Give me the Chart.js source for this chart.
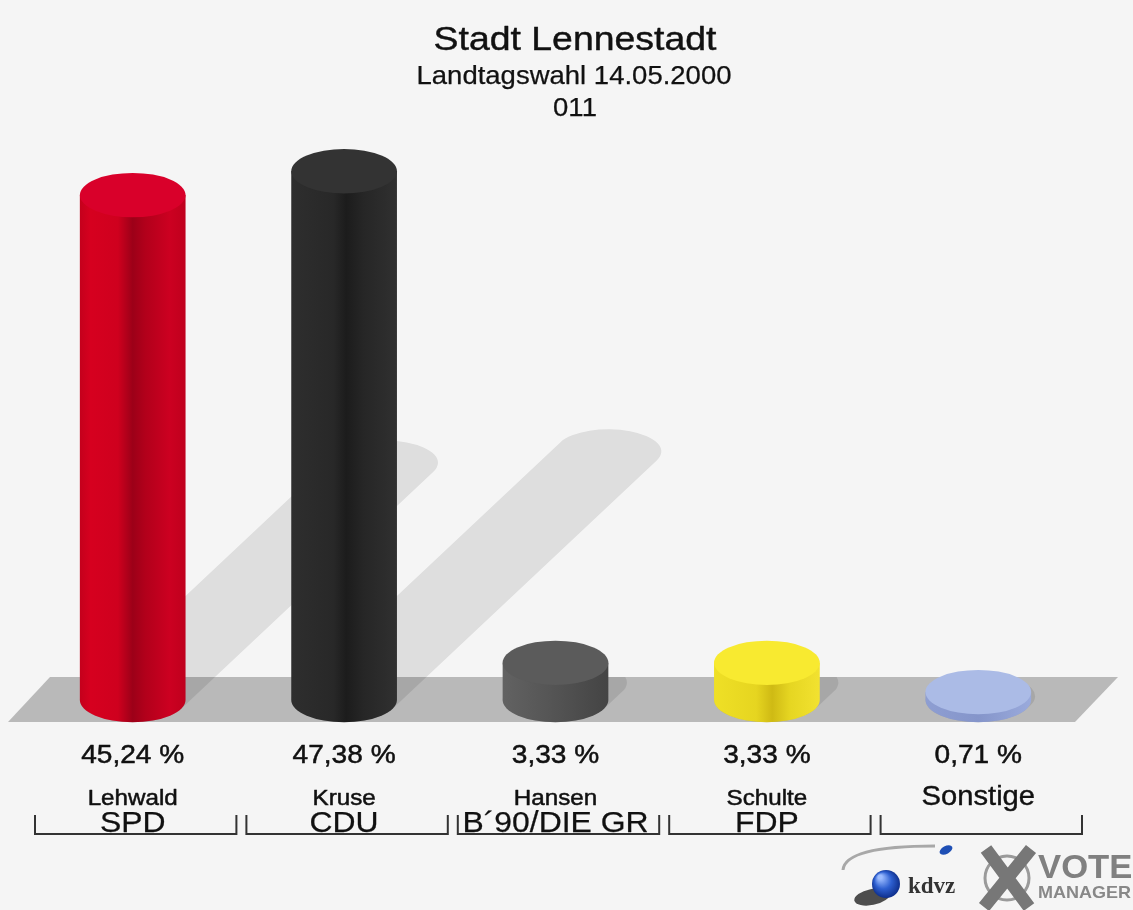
<!DOCTYPE html>
<html><head><meta charset="utf-8">
<script src="https://cdn.jsdelivr.net/npm/chart.js@4.4.0/dist/chart.umd.min.js"></script>
<style>html,body{margin:0;padding:0;background:#f5f5f5;overflow:hidden}canvas{display:block}</style>
</head><body>
<canvas id="c" width="1133" height="910"></canvas>
<script>
// ---- data ----
const titleText = "Stadt Lennestadt";
const subtitleText = "Landtagswahl 14.05.2000";
const districtText = "011";
const parties = ["SPD", "CDU", "B´90/DIE GR", "FDP", ""];
const candidates = ["Lehwald", "Kruse", "Hansen", "Schulte", "Sonstige"];
const shares = [45.24, 47.38, 3.33, 3.33, 0.71];
const shareLabels = ["45,24 %", "47,38 %", "3,33 %", "3,33 %", "0,71 %"];
const yMin = 0;
const yMax = 50;

// ---- styles ----
const barStyles = [
  { side: [[0,'#c4001c'],[0.1,'#d6001f'],[0.36,'#cf001e'],[0.5,'#9c0018'],[0.62,'#b2001b'],[0.85,'#cc0021'],[1,'#bf001d']], top: '#d9002a' },
  { side: [[0,'#2e2e2e'],[0.4,'#282828'],[0.52,'#1c1c1c'],[0.68,'#262626'],[1,'#303030']], top: '#333333' },
  { side: [[0,'#626262'],[0.45,'#555555'],[1,'#444444']], top: '#5b5b5b' },
  { side: [[0,'#efe026'],[0.4,'#e6d520'],[0.55,'#cfba14'],[0.72,'#e6d622'],[1,'#f2e230']], top: '#f8ea30' },
  { side: [[0,'#8e9ed2'],[0.5,'#8595ca'],[1,'#9aaadc']], top: '#abbbe6' }
];
const BG = '#f5f5f5';
const FONT = '"Liberation Sans", Arial, sans-serif';

function sText(ctx, text, x, y, size, sx, color, weight, align, stroke) {
  ctx.save();
  ctx.font = (weight || 'normal') + ' ' + size + 'px ' + FONT;
  ctx.fillStyle = color || '#111';
  ctx.textAlign = align || 'center';
  ctx.textBaseline = 'alphabetic';
  ctx.translate(x, y);
  ctx.scale(sx, 1);
  ctx.fillText(text, 0, 0);
  if (stroke) {
    ctx.strokeStyle = color || '#111';
    ctx.lineWidth = stroke;
    ctx.lineJoin = 'round';
    ctx.strokeText(text, 0, 0);
  }
  ctx.restore();
}

function sideGradient(ctx, x0, x1, stops) {
  const g = ctx.createLinearGradient(x0, 0, x1, 0);
  stops.forEach(s => g.addColorStop(s[0], s[1]));
  return g;
}

const scenePlugin = {
  id: 'scene',
  beforeDraw(chart) {
    const ctx = chart.ctx;
    ctx.save();
    ctx.fillStyle = BG;
    ctx.fillRect(0, 0, chart.width, chart.height);
    ctx.restore();
  },
  beforeDatasetsDraw(chart) {
    const { ctx, chartArea, scales } = chart;
    const y0 = scales.y.getPixelForValue(0);
    // platform
    ctx.save();
    ctx.fillStyle = '#b9b9b9';
    ctx.beginPath();
    ctx.moveTo(chartArea.left + 23, y0 - 23);
    ctx.lineTo(chartArea.right + 34, y0 - 23);
    ctx.lineTo(chartArea.right - 9, y0 + 22);
    ctx.lineTo(chartArea.left - 19, y0 + 22);
    ctx.closePath();
    ctx.fill();
    // shadows
    const meta = chart.getDatasetMeta(0);
    ctx.fillStyle = 'rgba(0,0,0,0.095)';
    meta.data.forEach(el => {
      const rx = el.width / 2, ry = rx * 0.42;
      const h = el.base - el.y;
      const dx = h * 0.5, dy = h * 0.47;
      const cx = el.x, cy = el.base;
      const t0 = Math.atan((ry * dx) / (rx * dy));
      ctx.save();
      if (h < 60) {
        ctx.beginPath();
        ctx.rect(0, y0 - 23, chart.width, 46);
        ctx.clip();
      }
      ctx.beginPath();
      ctx.ellipse(cx, cy, rx, ry, 0, t0, t0 + Math.PI, false);
      ctx.ellipse(cx + dx, cy - dy, rx, ry, 0, t0 + Math.PI, t0 + 2 * Math.PI, false);
      ctx.closePath();
      ctx.fill();
      ctx.restore();
    });
    ctx.restore();
  },
  afterDatasetsDraw(chart) {
    const { ctx } = chart;
    const meta = chart.getDatasetMeta(0);
    meta.data.forEach((el, i) => {
      const st = barStyles[i];
      const rx = el.width / 2, ry = rx * 0.42;
      const cx = el.x, top = el.y, base = el.base;
      ctx.save();
      ctx.fillStyle = sideGradient(ctx, cx - rx, cx + rx, st.side);
      ctx.beginPath();
      ctx.moveTo(cx - rx, top);
      ctx.lineTo(cx - rx, base);
      ctx.ellipse(cx, base, rx, ry, 0, Math.PI, 0, true);
      ctx.lineTo(cx + rx, top);
      ctx.closePath();
      ctx.fill();
      ctx.fillStyle = st.top;
      ctx.beginPath();
      ctx.ellipse(cx, top, rx, ry, 0, 0, Math.PI * 2);
      ctx.fill();
      ctx.restore();
    });
  },
  afterDraw(chart) {
    const { ctx, scales } = chart;
    const xs = scales.x;
    // titles
    sText(ctx, titleText, 575, 50, 34, 1.1, '#111', 'normal', 'center', 0.45);
    sText(ctx, subtitleText, 574, 84, 25, 1.1, '#111', 'normal', 'center', 0.25);
    sText(ctx, districtText, 575, 116, 25, 1.1, '#111', 'normal', 'center', 0.25);
    const meta = chart.getDatasetMeta(0);
    const step = xs.getPixelForValue(1) - xs.getPixelForValue(0);
    meta.data.forEach((el, i) => {
      const cx = el.x;
      sText(ctx, shareLabels[i], cx, 763, 26, 1.08, '#111', 'normal', 'center', 0.5);
      const bl = cx - step / 2 + 8, br = cx + step / 2 - 2;
      if (parties[i]) {
        sText(ctx, candidates[i], cx, 805, 22, 1.1, '#111', 'normal', 'center', 0.5);
        ctx.save();
        ctx.beginPath();
        ctx.rect(bl + 2, 780, br - bl - 4, 60);
        ctx.clip();
        sText(ctx, parties[i], cx, 832, 29, 1.1, '#111', 'normal', 'center', 0.25);
        ctx.restore();
      } else {
        sText(ctx, candidates[i], cx, 805, 27, 1.08, '#111', 'normal', 'center', 0.4);
      }
      // bracket
      ctx.save();
      ctx.strokeStyle = '#333';
      ctx.lineWidth = 2;
      ctx.beginPath();
      ctx.moveTo(bl, 815);
      ctx.lineTo(bl, 834);
      ctx.lineTo(br, 834);
      ctx.lineTo(br, 815);
      ctx.stroke();
      ctx.restore();
    });
    // logo
    ctx.save();
    ctx.strokeStyle = '#a8a8a8';
    ctx.lineWidth = 3;
    ctx.beginPath();
    ctx.moveTo(843, 870);
    ctx.quadraticCurveTo(845, 846, 935, 846);
    ctx.stroke();
    ctx.fillStyle = '#1e4fb5';
    ctx.beginPath();
    ctx.ellipse(946, 850, 7, 4, -0.5, 0, Math.PI * 2);
    ctx.fill();
    ctx.fillStyle = 'rgba(20,20,20,0.75)';
    ctx.beginPath();
    ctx.ellipse(872, 897, 18, 8, -0.2, 0, Math.PI * 2);
    ctx.fill();
    const g = ctx.createRadialGradient(880, 877, 2, 886, 884, 15);
    g.addColorStop(0, '#9cbcff');
    g.addColorStop(0.5, '#2d5fd0');
    g.addColorStop(1, '#0b2a85');
    ctx.fillStyle = g;
    ctx.beginPath();
    ctx.arc(886, 884, 14, 0, Math.PI * 2);
    ctx.fill();
    ctx.font = 'bold 23px "Liberation Serif", serif';
    ctx.fillStyle = '#333';
    ctx.textAlign = 'left';
    ctx.fillText('kdvz', 908, 893);
    ctx.strokeStyle = '#9a9a9a';
    ctx.lineWidth = 3;
    ctx.beginPath();
    ctx.arc(1007, 878, 22, 0, Math.PI * 2);
    ctx.stroke();
    ctx.strokeStyle = '#777';
    ctx.lineWidth = 13;
    ctx.lineCap = 'butt';
    ctx.beginPath();
    ctx.moveTo(986, 849); ctx.lineTo(1029, 907);
    ctx.moveTo(1031, 849); ctx.lineTo(984, 907);
    ctx.stroke();
    ctx.restore();
    sText(ctx, 'VOTE', 1038, 878, 34, 1.02, '#808080', 'bold', 'left');
    sText(ctx, 'MANAGER', 1038, 898, 17, 1.06, '#888', 'bold', 'left');
  }
};

new Chart(document.getElementById('c'), {
  type: 'bar',
  data: {
    labels: parties,
    datasets: [{ data: shares, backgroundColor: 'rgba(0,0,0,0)', borderWidth: 0,
      barPercentage: 0.5, categoryPercentage: 1.0 }]
  },
  options: {
    responsive: false,
    animation: false,
    layout: { padding: { left: 27, right: 49, top: 142, bottom: 210 } },
    scales: {
      x: { display: false, offset: true },
      y: { display: false, min: yMin, max: yMax }
    },
    plugins: { legend: { display: false }, tooltip: { enabled: false }, title: { display: false } }
  },
  plugins: [scenePlugin]
});
</script>
</body></html>
